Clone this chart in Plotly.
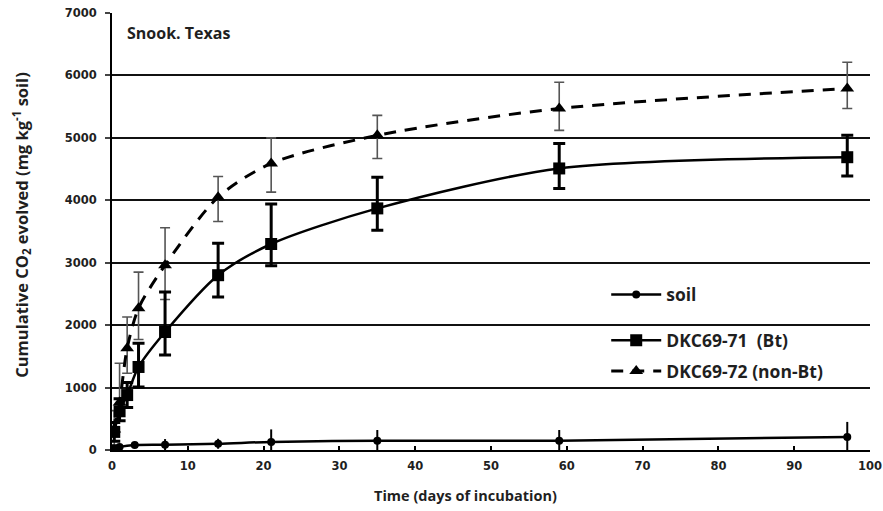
import plotly.graph_objects as go

# Incubation time (days)
days = [0.3, 1, 2, 3.5, 7, 14, 21, 35, 59, 97]
soil_days = [0.3, 1, 3, 7, 14, 21, 35, 59, 97]

# Cumulative CO2 evolved (mg kg-1 soil)
soil = [30, 50, 80, 85, 100, 130, 150, 150, 210]
soil_err = [40, 40, 50, 90, 80, 200, 170, 170, 240]

bt = [290, 620, 880, 1330, 1890, 2800, 3300, 3870, 4510, 4690]
bt_err_plus = [150, 200, 200, 380, 640, 510, 640, 500, 400, 350]
bt_err_minus = [150, 150, 200, 320, 370, 350, 350, 350, 320, 300]

nonbt = [330, 760, 1630, 2270, 2960, 4050, 4590, 5040, 5470, 5790]
nonbt_err_plus = [300, 630, 500, 580, 600, 330, 410, 320, 420, 420]
nonbt_err_minus = [250, 300, 400, 500, 550, 390, 460, 370, 350, 320]

y_ticks = [0, 1000, 2000, 3000, 4000, 5000, 6000, 7000]
x_ticks = [0, 10, 20, 30, 40, 50, 60, 70, 80, 90, 100]

FONT = "Open Sans"
TICK_FONT = "DejaVu Sans"
INK = "#1f1f1f"

fig = go.Figure()

# Error bars (separate traces so the legend icons show only line + marker)
fig.add_trace(go.Scatter(
    x=days, y=nonbt, mode="markers",
    marker=dict(size=1, color="rgba(0,0,0,0)"),
    error_y=dict(type="data", array=nonbt_err_plus, arrayminus=nonbt_err_minus,
                 color="#555555", thickness=1.6, width=5),
    showlegend=False, hoverinfo="skip"))
fig.add_trace(go.Scatter(
    x=days, y=bt, mode="markers",
    marker=dict(size=1, color="rgba(0,0,0,0)"),
    error_y=dict(type="data", array=bt_err_plus, arrayminus=bt_err_minus,
                 color="#000000", thickness=3, width=6),
    showlegend=False, hoverinfo="skip"))
fig.add_trace(go.Scatter(
    x=soil_days, y=soil, mode="markers",
    marker=dict(size=1, color="rgba(0,0,0,0)"),
    error_y=dict(type="data", array=soil_err, color="#000000",
                 thickness=2, width=0),
    showlegend=False, hoverinfo="skip"))

# Series
fig.add_trace(go.Scatter(
    x=soil_days, y=soil, name="<b>soil</b>", mode="lines+markers",
    line=dict(color="#000000", width=2.5, shape="spline", smoothing=0.8),
    marker=dict(symbol="circle", size=8, color="#000000"),
    legend="legend"))
fig.add_trace(go.Scatter(
    x=days, y=bt, name="<b>DKC69-71  (Bt)</b>", mode="lines+markers",
    line=dict(color="#000000", width=2.5, shape="spline", smoothing=0.8),
    marker=dict(symbol="square", size=12, color="#000000"),
    legend="legend2", legendgroup="bt"))
fig.add_trace(go.Scatter(
    x=days, y=nonbt, name="<b>DKC69-72 (non-Bt)</b>", mode="lines+markers",
    line=dict(color="#000000", width=3, dash="12px,9px", shape="spline", smoothing=0.8),
    marker=dict(symbol="triangle-up", size=12, color="#000000"),
    legend="legend2", legendgroup="nonbt"))

# Site label and axis titles
fig.add_annotation(
    x=0.017, y=0.955, xref="paper", yref="paper", xanchor="left", yanchor="middle",
    text="<b>Snook. Texas</b>", showarrow=False,
    font=dict(family=FONT, size=16, color=INK))
fig.add_annotation(
    x=0.467, y=-0.103, xref="paper", yref="paper", xanchor="center", yanchor="middle",
    text="<b>Time (days of incubation)</b>", showarrow=False,
    font=dict(family=FONT, size=14.5, color=INK))
fig.add_annotation(
    x=-0.119, y=0.515, xref="paper", yref="paper", xanchor="center", yanchor="middle",
    text="<b>Cumulative CO<sub>2</sub> evolved (mg kg<sup>-1</sup> soil)</b>",
    textangle=-90, showarrow=False,
    font=dict(family=FONT, size=16.5, color=INK))

legend_font = dict(family=FONT, size=17.5, color=INK)
fig.update_layout(
    width=883, height=511,
    margin=dict(l=112, r=13, t=13, b=61),
    paper_bgcolor="white", plot_bgcolor="white",
    font=dict(family=FONT, color=INK),
    legend=dict(x=0.652, y=0.397, xanchor="left", yanchor="top",
                bgcolor="rgba(0,0,0,0)", font=legend_font, itemwidth=50),
    legend2=dict(x=0.652, y=0.292, xanchor="left", yanchor="top",
                 bgcolor="rgba(0,0,0,0)", font=legend_font,
                 traceorder="grouped", tracegroupgap=5, itemwidth=50),
    xaxis=dict(
        range=[0, 100], tickvals=x_ticks, ticktext=[f"<b>{v}</b>" for v in x_ticks],
        ticks="inside", ticklen=4, tickwidth=1.5, tickcolor="#000",
        showline=True, linecolor="#000", linewidth=2, showgrid=False, zeroline=False,
        ticklabelstandoff=4,
        tickfont=dict(family=TICK_FONT, size=11.5, color=INK), automargin=False),
    yaxis=dict(
        range=[0, 7000], tickvals=y_ticks, ticktext=[f"<b>{v}</b>" for v in y_ticks],
        ticks="outside", ticklen=5, tickwidth=1.5, tickcolor="#444",
        showline=True, linecolor="#000", linewidth=2,
        showgrid=True, gridcolor="#111", gridwidth=2, zeroline=False,
        ticklabelstandoff=6,
        tickfont=dict(family=TICK_FONT, size=11.5, color=INK), automargin=False),
)

fig.write_html("out.html")
